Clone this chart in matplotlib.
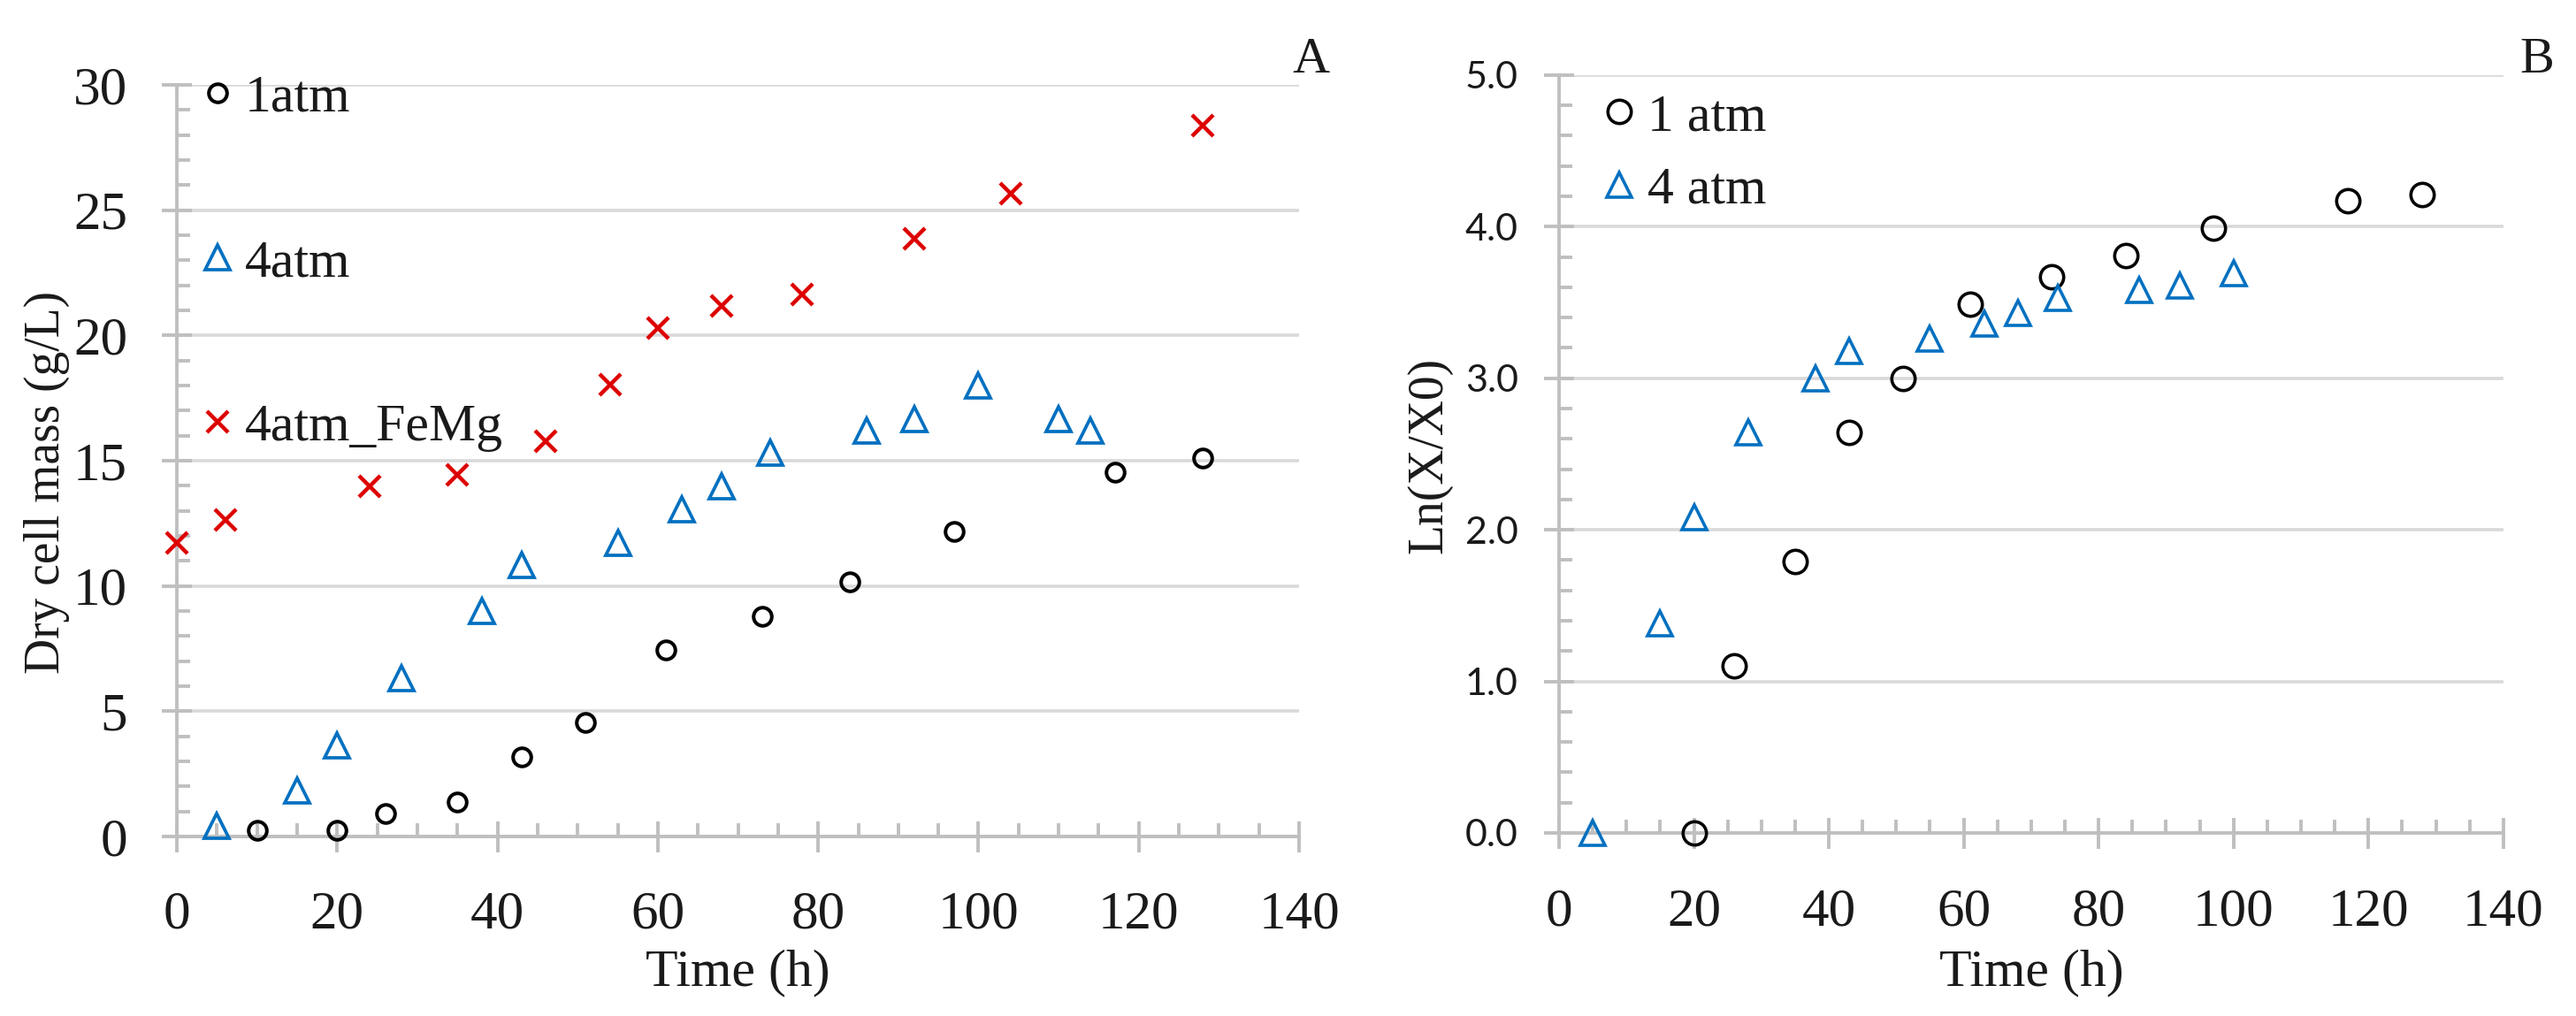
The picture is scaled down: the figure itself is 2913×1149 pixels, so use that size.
"""Growth of cells at 1 and 4 atm: dry cell mass (A) and Ln(X/X0) (B)."""

import matplotlib
matplotlib.use("Agg")
import matplotlib.pyplot as plt
from matplotlib.ticker import MultipleLocator, FormatStrFormatter

# ---- panel A: dry cell mass (g/L) ----
t_1atm_a = [10, 20, 26, 35, 43, 51, 61, 73, 84, 97, 117, 128]
dcw_1atm = [0.25, 0.23, 0.93, 1.37, 3.17, 4.54, 7.44, 8.79, 10.16, 12.16, 14.55, 15.09]

t_4atm_a = [5, 15, 20, 28, 38, 43, 55, 63, 68, 74, 86, 92, 100, 110, 114]
dcw_4atm = [0.44, 1.83, 3.62, 6.32, 9.01, 10.82, 11.72, 13.06, 13.98, 15.33,
            16.21, 16.65, 17.99, 16.65, 16.21]

t_femg = [0, 6, 24, 35, 46, 54, 60, 68, 78, 92, 104, 128]
dcw_femg = [11.71, 12.63, 13.98, 14.44, 15.79, 18.02, 20.29, 21.17, 21.64,
            23.87, 25.66, 28.37]

# ---- panel B: Ln(X/X0) ----
t_1atm_b = [20, 26, 35, 43, 51, 61, 73, 84, 97, 117, 128]
ln_1atm = [0.0, 1.10, 1.79, 2.64, 3.00, 3.49, 3.67, 3.81, 3.99, 4.17, 4.21]

t_4atm_b = [5, 15, 20, 28, 38, 43, 55, 63, 68, 74, 86, 92, 100]
ln_4atm = [0.0, 1.38, 2.08, 2.64, 3.00, 3.18, 3.26, 3.36, 3.43, 3.53, 3.58,
           3.61, 3.69]

BLACK = "#000000"
BLUE = "#0070C0"
RED = "#DD0000"
AXIS = "#bfbfbf"
GRID = "#d9d9d9"
TEXT = "#1a1a1a"
SERIF = "Liberation Serif"

plt.rcParams["font.family"] = [SERIF, "DejaVu Serif"]

fig = plt.figure(figsize=(14.565, 5.745), dpi=200)
ax_a = fig.add_axes([0.0687, 0.1767, 0.4356, 0.7398])
ax_b = fig.add_axes([0.6052, 0.1802, 0.3666, 0.7459])


def style_axes(ax, ymax, ymajor, yminor, ypad, xpad):
    ax.set_xlim(0, 140)
    ax.set_ylim(0, ymax)
    ax.xaxis.set_major_locator(MultipleLocator(20))
    ax.xaxis.set_minor_locator(MultipleLocator(5))
    ax.yaxis.set_major_locator(MultipleLocator(ymajor))
    ax.yaxis.set_minor_locator(MultipleLocator(yminor))
    for side in ("top", "right"):
        ax.spines[side].set_visible(False)
    for side in ("left", "bottom"):
        ax.spines[side].set_color(AXIS)
        ax.spines[side].set_linewidth(1.4)
    ax.tick_params(axis="x", which="major", direction="inout", length=12.6,
                   width=1.4, color=AXIS, pad=xpad, labelsize=22,
                   labelcolor=TEXT)
    ax.tick_params(axis="y", which="major", direction="inout", length=12,
                   width=1.4, color=AXIS, pad=ypad, labelsize=22,
                   labelcolor=TEXT)
    ax.tick_params(which="minor", direction="in", length=5.4, width=1.4,
                   color=AXIS)
    ax.grid(axis="y", which="major", color=GRID, linewidth=1.3)
    ax.set_axisbelow(True)


style_axes(ax_a, 30, 5, 1, ypad=14.2, xpad=15.5)
style_axes(ax_b, 5, 1, 0.2, ypad=10.6, xpad=16.2)
ax_b.yaxis.set_major_formatter(FormatStrFormatter("%.1f"))
for lab in ax_b.get_yticklabels():
    lab.set_fontfamily(["Lato", "DejaVu Sans"])
    lab.set_fontsize(15.5)

# panel A markers
h1, = ax_a.plot(t_1atm_a, dcw_1atm, "o", ms=7.4, mfc="none", mec=BLACK,
                mew=1.45, clip_on=False, zorder=3, label="1atm")
h2, = ax_a.plot(t_4atm_a, dcw_4atm, "^", ms=10.4, mfc="none", mec=BLUE,
                mew=1.35, clip_on=False, zorder=3, label="4atm")
h3, = ax_a.plot(t_femg, dcw_femg, "x", ms=8.4, mec=RED, mew=1.6,
                clip_on=False, zorder=3, label="4atm_FeMg")
ax_a.legend(handles=[h1, h2, h3], loc="upper left",
            bbox_to_anchor=(0.0173, 1.014), frameon=False, fontsize=21.5,
            handlelength=0.8, handletextpad=0.12, borderpad=0,
            borderaxespad=0, labelspacing=2.2, labelcolor=TEXT)

# panel B markers
g1, = ax_b.plot(t_1atm_b, ln_1atm, "o", ms=9.5, mfc="none", mec=BLACK,
                mew=1.3, clip_on=False, zorder=3, label="1 atm")
g2, = ax_b.plot(t_4atm_b, ln_4atm, "^", ms=10.0, mfc="none", mec=BLUE,
                mew=1.3, clip_on=False, zorder=3, label="4 atm")
ax_b.legend(handles=[g1, g2], loc="upper left",
            bbox_to_anchor=(0.041, 0.976), frameon=False, fontsize=21.5,
            handlelength=0.8, handletextpad=0.14, borderpad=0,
            borderaxespad=0, labelspacing=0.46, labelcolor=TEXT)

# axis titles and panel letters
fig.text(0.018, 0.525, "Dry cell mass (g/L)", rotation=90, ha="center",
         va="center", fontsize=20, color=TEXT)
fig.text(0.5548, 0.552, "Ln(X/X0)", rotation=90, ha="center", va="center",
         fontsize=20, color=TEXT)
fig.text(0.2865, 0.030, "Time (h)", ha="center", va="baseline",
         fontsize=21.5, color=TEXT)
fig.text(0.7885, 0.030, "Time (h)", ha="center", va="baseline",
         fontsize=21.5, color=TEXT)
fig.text(0.5088, 0.929, "A", ha="center", va="baseline", fontsize=21,
         color=TEXT)
fig.text(0.985, 0.929, "B", ha="center", va="baseline", fontsize=21,
         color=TEXT)

fig.savefig("out.png", dpi=200)
plt.close(fig)
